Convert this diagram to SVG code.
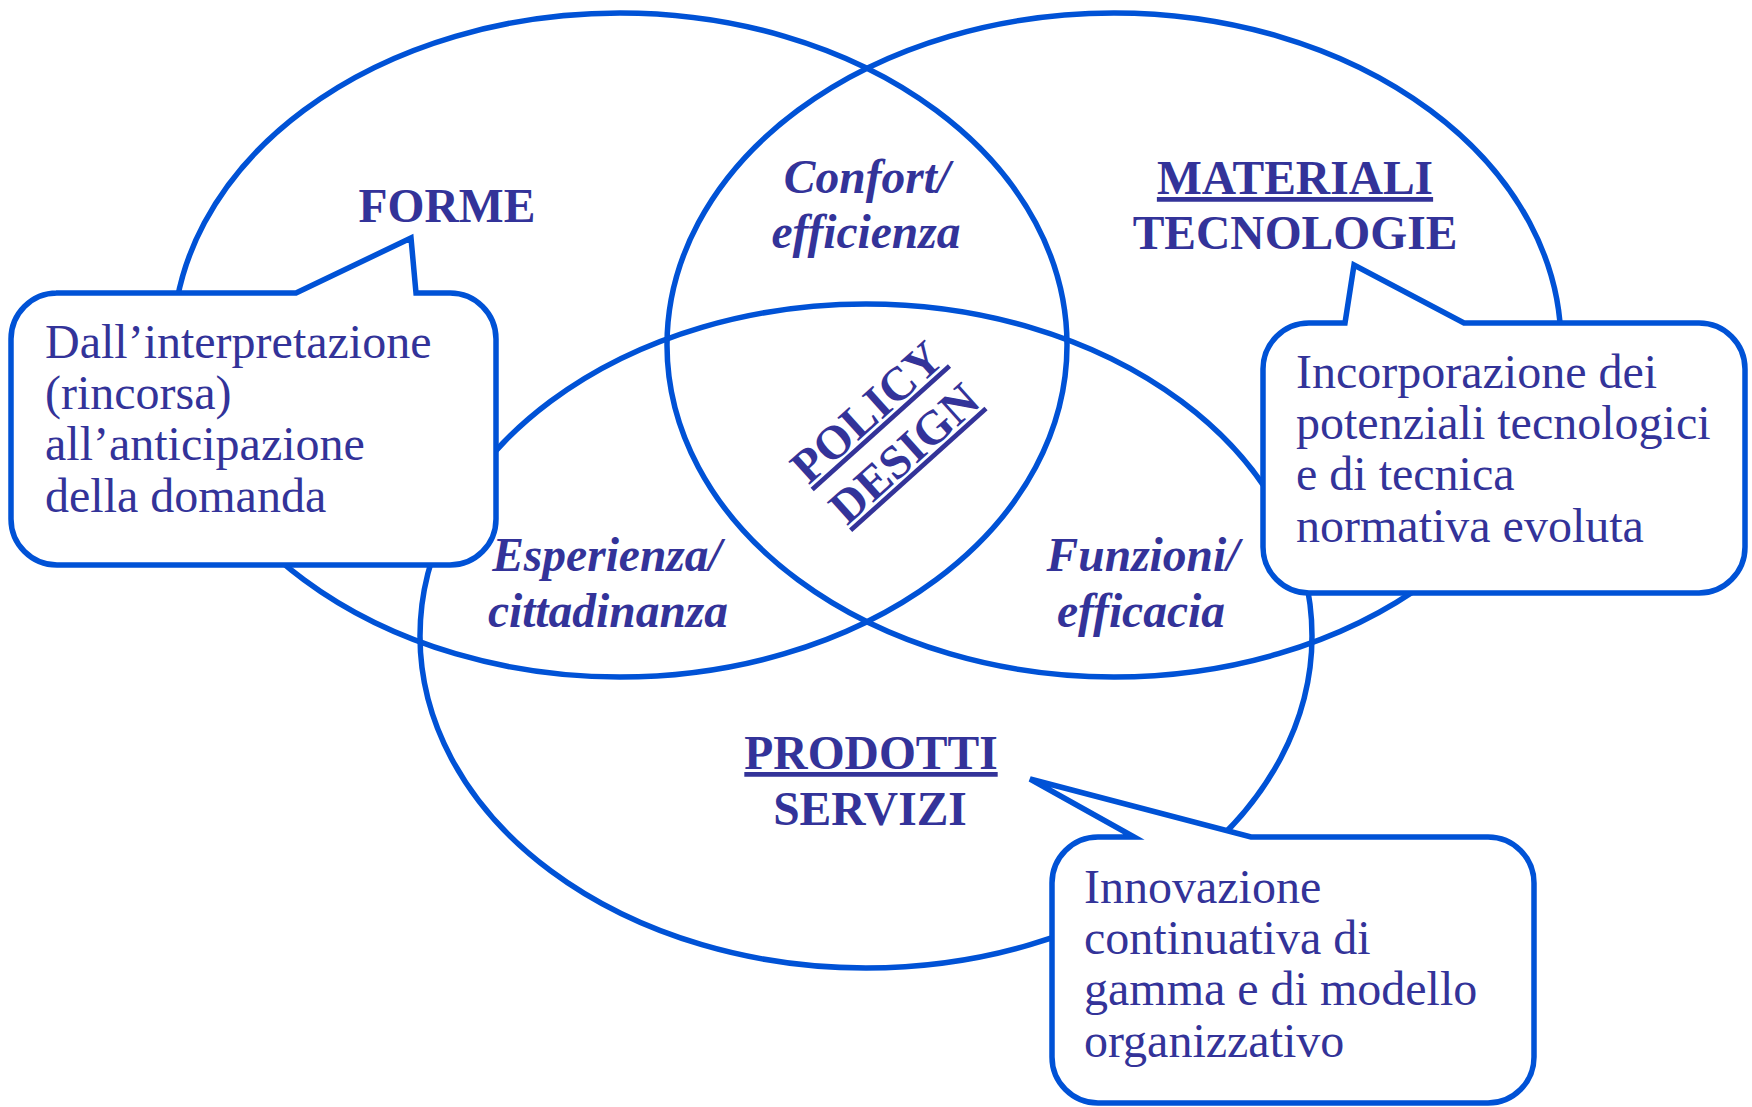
<svg xmlns="http://www.w3.org/2000/svg" width="1752" height="1107" viewBox="0 0 1752 1107">
  <style>
    .ring { fill: none; stroke: #0052D6; stroke-width: 5.5; }
    .bubble { fill: #FFFFFF; stroke: #0052D6; stroke-width: 5.5; stroke-linejoin: miter; }
    .txt { font-family: "Liberation Serif", "Times New Roman", serif; font-size: 47.5px; fill: #333399; }
    .body { font-size: 48px; }
    .head { font-weight: bold; text-anchor: middle; }
    .cross { font-weight: bold; font-style: italic; text-anchor: middle; }
    .u { text-decoration: underline; }
  </style>
  <rect width="1752" height="1107" fill="#FFFFFF"/>

  <!-- three overlapping sets -->
  <g id="connectors">
    <ellipse id="set-forme" class="ring" cx="620" cy="345" rx="447" ry="332"/>
    <ellipse id="set-materiali" class="ring" cx="1114" cy="345" rx="447" ry="332"/>
    <ellipse id="set-prodotti" class="ring" cx="866" cy="636" rx="446" ry="332"/>
  </g>

  <!-- set titles -->
  <g id="label-forme">
    <text class="txt head" x="447" y="222">FORME</text>
  </g>
  <g id="label-materiali">
    <text class="txt head u" x="1295" y="194">MATERIALI</text>
    <text class="txt head" x="1295" y="249">TECNOLOGIE</text>
  </g>
  <g id="label-prodotti">
    <text class="txt head u" x="871" y="769">PRODOTTI</text>
    <text class="txt head" x="870" y="825">SERVIZI</text>
  </g>

  <!-- pairwise overlaps -->
  <g id="overlap-confort">
    <text class="txt cross" x="867" y="193">Confort/</text>
    <text class="txt cross" x="866" y="248">efficienza</text>
  </g>
  <g id="overlap-esperienza">
    <text class="txt cross" x="607" y="571">Esperienza/</text>
    <text class="txt cross" x="608" y="627">cittadinanza</text>
  </g>
  <g id="overlap-funzioni">
    <text class="txt cross" x="1143" y="571">Funzioni/</text>
    <text class="txt cross" x="1141" y="627">efficacia</text>
  </g>

  <!-- centre of all three -->
  <g id="center-policy-design" transform="translate(900 449) rotate(-42)">
    <text class="txt head u" x="0" y="-34">POLICY</text>
    <text class="txt head u" x="0" y="22">DESIGN</text>
  </g>

  <!-- speech bubbles -->
  <g id="note-forme">
    <path class="bubble" d="M56 293 L296 293 L411 238 L416 293 L450 293 A46 46 0 0 1 496 339 L496 519 A46 46 0 0 1 450 565 L57 565 A46 46 0 0 1 11 519 L11 339 A46 46 0 0 1 57 293 Z"/>
    <text class="txt body" x="45" y="358">Dall’interpretazione</text>
    <text class="txt body" x="45" y="409">(rincorsa)</text>
    <text class="txt body" x="45" y="460">all’anticipazione</text>
    <text class="txt body" x="45" y="512">della domanda</text>
  </g>
  <g id="note-materiali">
    <path class="bubble" d="M1345 323 L1354 265 L1464 323 L1699 323 A46 46 0 0 1 1745 369 L1745 547 A46 46 0 0 1 1699 593 L1309 593 A46 46 0 0 1 1263 547 L1263 369 A46 46 0 0 1 1309 323 Z"/>
    <text class="txt body" x="1296" y="388">Incorporazione dei</text>
    <text class="txt body" x="1296" y="439">potenziali tecnologici</text>
    <text class="txt body" x="1296" y="490">e di tecnica</text>
    <text class="txt body" x="1296" y="542">normativa evoluta</text>
  </g>
  <g id="note-prodotti">
    <path class="bubble" d="M1134 837 L1030 779 L1251 837 L1488 837 A46 46 0 0 1 1534 883 L1534 1057 A46 46 0 0 1 1488 1103 L1098 1103 A46 46 0 0 1 1052 1057 L1052 883 A46 46 0 0 1 1098 837 Z"/>
    <text class="txt body" x="1084" y="903">Innovazione</text>
    <text class="txt body" x="1084" y="954">continuativa di</text>
    <text class="txt body" x="1084" y="1005">gamma e di modello</text>
    <text class="txt body" x="1084" y="1057">organizzativo</text>
  </g>
</svg>
